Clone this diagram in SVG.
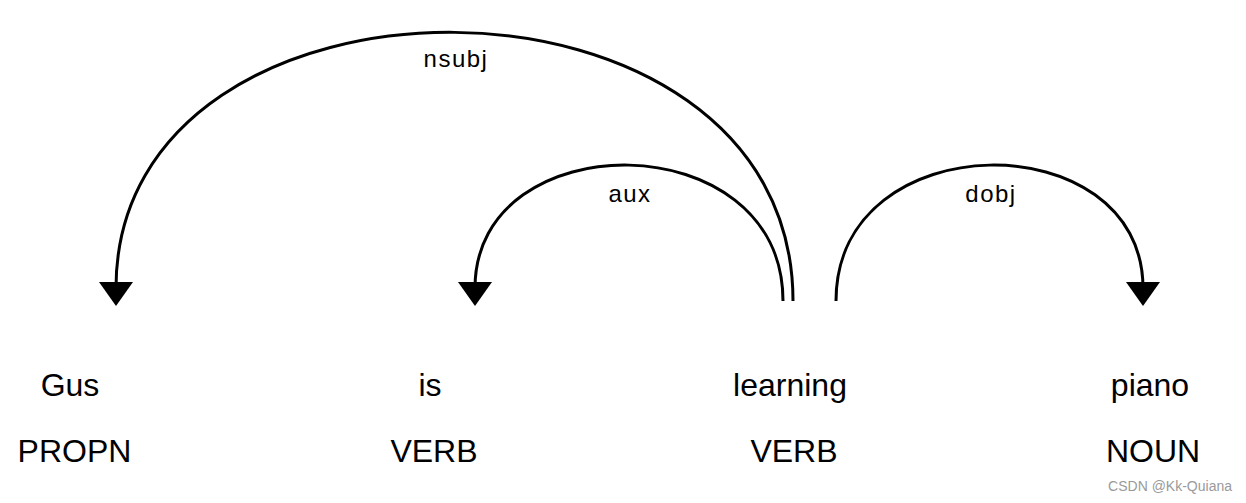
<svg xmlns="http://www.w3.org/2000/svg" width="1246" height="503" viewBox="0 0 1246 503">
<style>
.word{font-family:"Liberation Sans",Arial,sans-serif;font-size:32px;fill:#000;text-anchor:middle}
.lbl{font-family:"Liberation Sans",Arial,sans-serif;font-size:24px;letter-spacing:1.5px;fill:#000;text-anchor:middle}
.arc{fill:none;stroke:#000;stroke-width:3}
.head{fill:#000;stroke:none}
.wm{font-family:"Liberation Sans",Arial,sans-serif;font-size:14px;fill:#9a9a9a}
</style>
<rect width="1246" height="503" fill="#fff"/>
<g id="connectors">
  <g id="arc-nsubj">
    <path class="arc" d="M793,301 C793,-55 116,-55 116,288"/>
    <path class="head" d="M99,282 L133,282 L116,306 Z"/>
    <text class="lbl" x="456" y="67">nsubj</text>
  </g>
  <g id="arc-aux">
    <path class="arc" d="M783,301 C783,122 475,122 475,288"/>
    <path class="head" d="M458,282 L492,282 L475,306 Z"/>
    <text class="lbl" x="630" y="202">aux</text>
  </g>
  <g id="arc-dobj">
    <path class="arc" d="M836,301 C836,122 1143,122 1143,288"/>
    <path class="head" d="M1126,282 L1160,282 L1143,306 Z"/>
    <text class="lbl" x="991" y="202">dobj</text>
  </g>
</g>
<g id="node-gus">
  <text class="word" x="70" y="396">Gus</text>
  <text class="word" x="74.5" y="462">PROPN</text>
</g>
<g id="node-is">
  <text class="word" x="430" y="396">is</text>
  <text class="word" x="434" y="462">VERB</text>
</g>
<g id="node-learning">
  <text class="word" x="790" y="396">learning</text>
  <text class="word" x="794" y="462">VERB</text>
</g>
<g id="node-piano">
  <text class="word" x="1150" y="396">piano</text>
  <text class="word" x="1153" y="462">NOUN</text>
</g>
<text class="wm" x="1232" y="491" text-anchor="end">CSDN @Kk-Quiana</text>
</svg>
